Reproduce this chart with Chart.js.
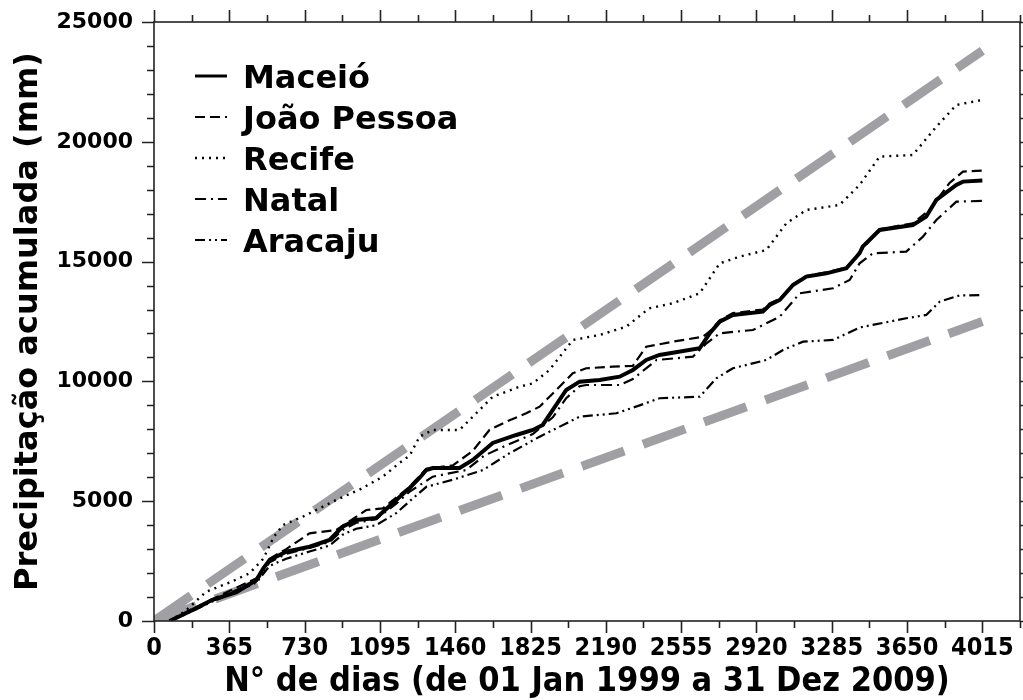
<!DOCTYPE html>
<html><head><meta charset="utf-8">
<script src="https://cdn.jsdelivr.net/npm/chart.js@4.4.1/dist/chart.umd.min.js"></script>
<style>html,body{margin:0;padding:0;background:#fff}#wrap{width:1023px;height:700px}</style>
</head><body><div id="wrap"><canvas id="c" width="1023" height="700"></canvas></div>
<script>
// ---- data (days since 01 Jan 1999, accumulated mm) ----
const seriesNames = ['Maceió', 'João Pessoa', 'Recife', 'Natal', 'Aracaju'];

const maceioDays = [75,150,220,280,400,496,530,560,641,754,851,914,980,1077,1174,1239,1290,1320,1351,1481,1545,1642,1756,1836,1884,1933,1998,2063,2160,2257,2321,2386,2450,2515,2645,2694,2742,2806,2951,2984,3033,3097,3162,3259,3356,3420,3435,3517,3678,3743,3792,3889,3921,4015];
const maceioVals = [0,300,600,875,1200,1711,2200,2546,2893,3101,3381,3936,4216,4299,5050,5551,6000,6303,6386,6386,6720,7430,7764,7972,8181,8807,9642,9989,10059,10197,10477,10894,11103,11199,11382,12008,12493,12773,12910,13190,13399,14025,14372,14511,14720,15348,15624,16320,16529,16877,17573,18199,18338,18380];

const joaoDays = [75,150,280,500,560,641,754,883,1029,1109,1174,1239,1320,1450,1545,1626,1707,1804,1869,1950,2030,2095,2224,2321,2386,2450,2515,2661,2701,2742,2806,2951,2984,3033,3097,3162,3259,3356,3420,3517,3678,3759,3856,3921,4015];
const joaoVals = [0,350,900,1800,2600,3000,3660,3798,4633,4700,5150,5600,6350,6500,7100,7972,8319,8669,8945,9642,10339,10548,10615,10650,11450,11550,11658,11866,12146,12550,12850,13000,13250,13450,14050,14400,14550,14750,15400,16350,16600,17155,18282,18755,18800];

const recifeDays = [75,150,253,365,463,530,580,625,721,883,1000,1109,1190,1239,1287,1351,1481,1642,1772,1836,1917,2030,2160,2289,2400,2515,2645,2742,2839,2968,3065,3162,3323,3420,3517,3678,3792,3889,4015];
const recifeVals = [0,400,1223,1600,1991,2600,3500,4007,4353,5050,5500,6023,6600,6900,7693,7972,7972,9362,9780,9920,10477,11729,11938,12284,13050,13260,13678,14929,15206,15485,16599,17155,17364,18200,19380,19451,20632,21538,21747];

const natalDays = [75,150,280,496,560,641,754,851,914,980,1077,1174,1239,1351,1514,1600,1700,1836,1933,1998,2063,2095,2257,2321,2436,2612,2678,2742,2903,3033,3130,3291,3372,3420,3484,3646,3727,3792,3889,4015];
const natalVals = [0,300,850,1650,2450,2800,3050,3300,3800,4100,4250,4900,5400,6023,6303,6900,7300,7800,8500,9300,9800,9850,9850,10100,10894,11032,11590,12008,12146,12702,13678,13887,14233,14930,15348,15415,16041,16738,17503,17531];

const aracajuDays = [75,150,280,496,560,641,754,851,914,980,1077,1174,1239,1320,1450,1595,1723,1869,2063,2241,2354,2450,2645,2726,2806,2968,3049,3146,3291,3420,3646,3743,3808,3905,4015];
const aracajuVals = [0,280,800,1600,2300,2600,2900,3150,3600,3850,4000,4500,5000,5600,5900,6303,7000,7693,8528,8669,9000,9296,9362,10130,10548,10894,11311,11659,11729,12250,12634,12773,13328,13590,13600];

// reference envelope lines
const trendDays = [0, 4015];
const upperTrendVals = [0, 23800];
const lowerTrendVals = [0, 12500];

// tick labels
const xTickLabels = [0,365,730,1095,1460,1825,2190,2555,2920,3285,3650,4015];
const yTickLabels = [0,5000,10000,15000,20000,25000];

const xTitle = 'N° de dias (de 01 Jan 1999 a 31 Dez 2009)';
const yTitle = 'Precipitação acumulada (mm)';

// ---- build ----
const pts = (d, v) => d.map((x, i) => ({x, y: v[i]}));
const xMax = 4197.5, xMinorStep = 182.5, yMax = 25000, yMinorStep = 1000;

const styles = [
  {w: 4, dash: []},
  {w: 2.2, dash: [10, 5]},
  {w: 2.4, dash: [2, 5]},
  {w: 2.2, dash: [11, 5, 2, 5]},
  {w: 2.2, dash: [10, 4, 2, 4, 2, 4]}
];
const seriesData = [
  pts(maceioDays, maceioVals), pts(joaoDays, joaoVals), pts(recifeDays, recifeVals),
  pts(natalDays, natalVals), pts(aracajuDays, aracajuVals)
];
const datasets = seriesNames.map((n, i) => ({
  label: n, data: seriesData[i], borderColor: '#000', borderWidth: styles[i].w,
  borderDash: styles[i].dash, pointRadius: 0, tension: 0, fill: false, order: 1
}));
const gray = 'rgb(160,160,164)';
datasets.push({label: 'sup', data: pts(trendDays, upperTrendVals), borderColor: gray, borderWidth: 9, borderDash: [45, 20], borderCapStyle: 'butt', pointRadius: 0, order: 10});
datasets.push({label: 'inf', data: pts(trendDays, lowerTrendVals), borderColor: gray, borderWidth: 9, borderDash: [45, 20], borderCapStyle: 'butt', pointRadius: 0, order: 10});

const axisColor = '#222';
const framePlugin = {
  id: 'frame',
  afterDraw(chart) {
    const {ctx, chartArea: a, scales: {x, y}} = chart;
    ctx.save();
    ctx.strokeStyle = axisColor; ctx.lineWidth = 1.6;
    ctx.strokeRect(a.left, a.top, a.right - a.left, a.bottom - a.top);
    ctx.beginPath();
    for (let v = 0; v <= xMax + 1e-6; v += xMinorStep) {
      const major = xTickLabels.includes(Math.round(v)) && Math.abs(v - Math.round(v)) < 1e-6;
      const len = major ? 12 : 7;
      const px = Math.round(x.getPixelForValue(v)) + 0.5;
      ctx.moveTo(px, a.bottom); ctx.lineTo(px, a.bottom + len);
      ctx.moveTo(px, a.top); ctx.lineTo(px, a.top - len);
    }
    for (let v = 0; v <= yMax; v += yMinorStep) {
      const major = yTickLabels.includes(v);
      const len = major ? 12 : 7;
      const py = Math.round(y.getPixelForValue(v)) + 0.5;
      ctx.moveTo(a.left, py); ctx.lineTo(a.left - len, py);
      ctx.moveTo(a.right, py); ctx.lineTo(a.right + len, py);
    }
    ctx.stroke();
    // legend
    const lx0 = 195, lx1 = 227, tx = 243, baseY = 88, step = 41;
    ctx.font = 'bold 32px "DejaVu Sans", sans-serif';
    ctx.textBaseline = 'alphabetic'; ctx.textAlign = 'left';
    seriesNames.forEach((n, i) => {
      const yy = baseY + i * step;
      ctx.beginPath();
      ctx.strokeStyle = '#000'; ctx.lineWidth = Math.min(styles[i].w, 3);
      ctx.setLineDash(styles[i].dash);
      ctx.moveTo(lx0, yy - 12); ctx.lineTo(lx1, yy - 12);
      ctx.stroke();
      ctx.setLineDash([]);
      ctx.fillStyle = '#000';
      ctx.fillText(n, tx, yy);
    });
    ctx.restore();
  }
};

const plainLabel = v => String(v);

new Chart(document.getElementById('c'), {
  type: 'line',
  data: {datasets},
  options: {
    responsive: false, animation: false, devicePixelRatio: 1,
    layout: {padding: {top: 22, right: 3, left: 0, bottom: 0}},
    plugins: {legend: {display: false}, tooltip: {enabled: false}},
    scales: {
      x: {
        type: 'linear', min: 0, max: xMax,
        afterBuildTicks: s => { s.ticks = xTickLabels.map(v => ({value: v})); },
        afterFit: s => { s.height = 79; s.paddingLeft = 0; s.paddingRight = 0; },
        grid: {display: false, drawTicks: false}, border: {display: false},
        ticks: {color: '#000', padding: 12, maxRotation: 0, autoSkip: false, callback: plainLabel,
                font: {family: '"DejaVu Sans Condensed", "Liberation Sans Narrow", sans-serif', weight: 'bold', size: 25}},
        title: {display: true, text: xTitle, color: '#000', padding: {top: 0, bottom: 1},
                font: {family: '"DejaVu Sans Condensed", "Liberation Sans Narrow", sans-serif', weight: 'bold', size: 34, lineHeight: 1}}
      },
      y: {
        type: 'linear', min: 0, max: yMax,
        afterBuildTicks: s => { s.ticks = yTickLabels.map(v => ({value: v})); },
        afterFit: s => { s.width = 154; s.paddingTop = 0; s.paddingBottom = 0; },
        grid: {display: false, drawTicks: false}, border: {display: false},
        ticks: {color: '#000', padding: 21, callback: plainLabel, font: {family: '"DejaVu Sans", sans-serif', weight: 'bold', size: 22}},
        title: {display: true, text: yTitle, color: '#000', padding: {top: 13, bottom: 0},
                font: {family: '"DejaVu Sans", sans-serif', weight: 'bold', size: 32, lineHeight: 1}}
      }
    }
  },
  plugins: [framePlugin]
});
</script>
</body></html>
